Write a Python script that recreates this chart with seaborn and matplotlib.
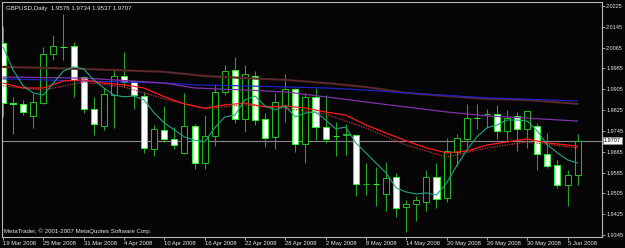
import matplotlib
matplotlib.use("Agg")
import matplotlib.pyplot as plt
import matplotlib.transforms as mtransforms
import pandas as pd
import seaborn as sns

# GBPUSD daily bars, 19 Mar 2008 .. 6 Jun 2008
dates = [
    "19 Mar 2008", "20 Mar 2008", "21 Mar 2008", "24 Mar 2008", "25 Mar 2008", "26 Mar 2008",
    "27 Mar 2008", "28 Mar 2008", "31 Mar 2008", "1 Apr 2008", "2 Apr 2008", "3 Apr 2008",
    "4 Apr 2008", "7 Apr 2008", "8 Apr 2008", "9 Apr 2008", "10 Apr 2008", "11 Apr 2008",
    "14 Apr 2008", "15 Apr 2008", "16 Apr 2008", "17 Apr 2008", "18 Apr 2008", "21 Apr 2008",
    "22 Apr 2008", "23 Apr 2008", "24 Apr 2008", "25 Apr 2008", "28 Apr 2008", "29 Apr 2008",
    "30 Apr 2008", "1 May 2008", "2 May 2008", "5 May 2008", "6 May 2008", "7 May 2008",
    "8 May 2008", "9 May 2008", "12 May 2008", "13 May 2008", "14 May 2008", "15 May 2008",
    "16 May 2008", "19 May 2008", "20 May 2008", "21 May 2008", "22 May 2008", "23 May 2008",
    "26 May 2008", "27 May 2008", "28 May 2008", "29 May 2008", "30 May 2008", "2 Jun 2008",
    "3 Jun 2008", "4 Jun 2008", "5 Jun 2008", "6 Jun 2008",
]

opens = [
    2.0083, 1.9852, 1.9849, 1.9803, 1.9852, 2.0041, 2.0068, 2.0071, 1.9952, 1.9829,
    1.9764, 1.9883, 1.9956, 1.9937, 1.9879, 1.9676, 1.9749, 1.9714, 1.9661, 1.9764,
    1.9622, 1.9726, 1.9895, 1.9979, 1.9791, 1.9956, 1.9791, 1.9722, 1.9841, 1.9906,
    1.9695, 1.9876, 1.9760, 1.9726, 1.9730, 1.9730, 1.9541, 1.9542, 1.9503, 1.9568,
    1.9453, 1.9465, 1.9472, 1.9568, 1.9488, 1.9664, 1.9714, 1.9795, 1.9810, 1.9810,
    1.9745, 1.9803, 1.9753, 1.9764, 1.9657, 1.9614, 1.9538, 1.9576,
]
highs = [
    2.0148, 1.9876, 1.9864, 1.9891, 2.0068, 2.0114, 2.0194, 2.0087, 1.9956, 1.9876,
    1.9910, 1.9979, 2.0048, 1.9941, 1.9895, 1.9768, 1.9841, 1.9760, 1.9891, 1.9772,
    1.9806, 1.9925, 1.9998, 2.0029, 1.9998, 1.9975, 1.9814, 1.9891, 1.9964, 1.9910,
    1.9891, 1.9910, 1.9883, 1.9780, 1.9772, 1.9731, 1.9622, 1.9607, 1.9626, 1.9584,
    1.9480, 1.9495, 1.9595, 1.9622, 1.9718, 1.9733, 1.9849, 1.9849, 1.9829, 1.9845,
    1.9826, 1.9818, 1.9822, 1.9776, 1.9737, 1.9634, 1.9595, 1.9734,
]
lows = [
    1.9799, 1.9733, 1.9806, 1.9757, 1.9849, 2.0018, 2.0018, 1.9876, 1.9814, 1.9730,
    1.9749, 1.9757, 1.9914, 1.9829, 1.9661, 1.9649, 1.9703, 1.9676, 1.9657, 1.9599,
    1.9599, 1.9687, 1.9883, 1.9776, 1.9741, 1.9768, 1.9684, 1.9676, 1.9780, 1.9664,
    1.9622, 1.9710, 1.9699, 1.9649, 1.9653, 1.9495, 1.9499, 1.9457, 1.9438, 1.9415,
    1.9357, 1.9399, 1.9438, 1.9449, 1.9472, 1.9611, 1.9684, 1.9753, 1.9757, 1.9714,
    1.9707, 1.9668, 1.9680, 1.9595, 1.9603, 1.9526, 1.9457, 1.9537,
]
closes = [
    1.9852, 1.9850, 1.9818, 1.9856, 2.0041, 2.0071, 2.0066, 1.9941, 1.9829, 1.9772,
    1.9887, 1.9956, 1.9933, 1.9883, 1.9680, 1.9753, 1.9714, 1.9691, 1.9764, 1.9622,
    1.9726, 1.9895, 1.9975, 1.9791, 1.9964, 1.9787, 1.9718, 1.9856, 1.9906, 1.9695,
    1.9876, 1.9760, 1.9714, 1.9724, 1.9732, 1.9541, 1.9543, 1.9540, 1.9564, 1.9449,
    1.9465, 1.9480, 1.9568, 1.9484, 1.9668, 1.9718, 1.9795, 1.9793, 1.9812, 1.9745,
    1.9795, 1.9753, 1.9822, 1.9657, 1.9611, 1.9538, 1.9576, 1.9707,
]

# fast moving average, one value per bar
ma_fast = [
    2.0068, 1.9979, 1.9918, 1.9891, 1.9883, 1.9929, 1.9975, 1.9991, 1.9983, 1.9941,
    1.9910, 1.9883, 1.9876, 1.9879, 1.9864, 1.9814, 1.9776, 1.9749, 1.9722, 1.9710,
    1.9703, 1.9757, 1.9799, 1.9806, 1.9864, 1.9879, 1.9841, 1.9826, 1.9841, 1.9799,
    1.9814, 1.9818, 1.9787, 1.9753, 1.9760, 1.9699, 1.9661, 1.9622, 1.9584, 1.9526,
    1.9511, 1.9503, 1.9507, 1.9499, 1.9545, 1.9611, 1.9672, 1.9722, 1.9757, 1.9768,
    1.9787, 1.9787, 1.9783, 1.9745, 1.9691, 1.9661, 1.9634, 1.9622,
]

# slower averages, sampled at some bars
red_bars = [0, 2, 4, 6, 8, 10, 12, 14, 16, 18, 20, 22, 24, 26, 28, 30, 32, 34, 36, 38,
            40, 42, 44, 46, 48, 50, 52, 54, 57]
ma_red = [1.9929, 1.9910, 1.9910, 1.9937, 1.9941, 1.9929, 1.9922, 1.9910, 1.9876, 1.9849,
          1.9833, 1.9845, 1.9852, 1.9837, 1.9841, 1.9833, 1.9818, 1.9806, 1.9768, 1.9737,
          1.9707, 1.9680, 1.9661, 1.9668, 1.9691, 1.9703, 1.9714, 1.9699, 1.9687]
red2_bars = [0, 4, 8, 12, 16, 20, 24, 28, 32, 36, 40, 44, 48, 52, 57]
ma_red2 = [1.9918, 1.9902, 1.9933, 1.9914, 1.9868, 1.9830, 1.9845, 1.9833, 1.9810, 1.9756,
           1.9691, 1.9645, 1.9680, 1.9703, 1.9680]
blue_bars = [0, 8, 16, 19, 24, 32, 36, 40, 48, 57]
ma_blue = [1.9945, 1.9937, 1.9929, 1.9922, 1.9918, 1.9910, 1.9902, 1.9891, 1.9872, 1.9860]
purple_bars = [0, 8, 16, 19, 24, 28, 32, 36, 40, 44, 48, 57]
ma_purple = [1.9952, 1.9948, 1.9929, 1.9910, 1.9902, 1.9895, 1.9876, 1.9856, 1.9837, 1.9818,
             1.9803, 1.9783]
brown_bars = [0, 8, 16, 20, 24, 28, 32, 36, 40, 44, 48, 52, 57]
ma_brown = [1.9991, 1.9983, 1.9972, 1.9956, 1.9948, 1.9941, 1.9929, 1.9914, 1.9891, 1.9879,
            1.9868, 1.9864, 1.9849]

price_ticks = [2.0225, 2.0145, 2.0065, 1.9985, 1.9905, 1.9825, 1.9745, 1.9665, 1.9585,
               1.9505, 1.9425, 1.9345]

BG = "#050505"
FRAME = "#b8b8b8"
TEXT = "#e8e8e8"

sns.set_theme(style="dark", rc={"axes.facecolor": BG, "figure.facecolor": BG})
plt.rcParams["font.family"] = ["Liberation Sans", "DejaVu Sans"]

bars = pd.DataFrame({"bar": range(len(dates)), "date": dates, "open": opens,
                     "high": highs, "low": lows, "close": closes, "fast": ma_fast})

fig = plt.figure(figsize=(6.25, 2.48), dpi=100)
ax = fig.add_axes([2 / 625, 11 / 248, 600 / 625, 235 / 248])
ax.set_facecolor(BG)

# candles: bull = hollow, bear = white
for _, r in bars.iterrows():
    ax.vlines(r["bar"], r["low"], r["high"], color="#22a822", lw=0.75, zorder=2)
    lo = min(r["open"], r["close"])
    hi = max(r["open"], r["close"])
    bull = r["close"] >= r["open"]
    ax.bar(r["bar"], max(hi - lo, 0.00002), bottom=lo, width=0.6,
           color=BG if bull else "white",
           edgecolor="#22b822" if bull else "#2ef02e", linewidth=0.75, zorder=3)

# moving averages on top of the candles
sns.lineplot(x=brown_bars, y=ma_brown, ax=ax, color="#4e2418", lw=1.6, zorder=4)
sns.lineplot(x=brown_bars, y=ma_brown, ax=ax, color="#8a3a90", lw=0.6,
             linestyle=(0, (1, 2)), zorder=4)
sns.lineplot(x=blue_bars, y=ma_blue, ax=ax, color="#2020c8", lw=0.9, zorder=4)
sns.lineplot(x=purple_bars, y=ma_purple, ax=ax, color="#8030a8", lw=0.9, zorder=4)
sns.lineplot(x=red2_bars, y=ma_red2, ax=ax, color="#c83040", lw=0.9,
             linestyle=(0, (1, 1)), zorder=4)
sns.lineplot(x=red_bars, y=ma_red, ax=ax, color="#ff1a1a", lw=0.9, zorder=5)
sns.lineplot(data=bars, x="bar", y="fast", ax=ax, color="#22a386", lw=0.8, zorder=5)

# last price line and label
last = closes[-1]
ax.axhline(last, color="#8a8a8a", lw=0.8, zorder=1)
trans = mtransforms.blended_transform_factory(ax.transAxes, ax.transData)
ax.text(1.003, last, f"{last:.4f}", transform=trans, ha="left", va="center",
        fontsize=4.0, color="black",
        bbox=dict(boxstyle="square,pad=0.2", fc="white", ec="#909090", lw=0.5))

ax.set_xlim(-0.1, 59.42)
ax.set_ylim(1.9338, 2.0240)

ax.yaxis.tick_right()
ax.set_yticks(price_ticks)
ax.set_yticklabels([f"{p:.4f}" for p in price_ticks])
ax.set_xticks(bars["bar"][::4])
ax.set_xticklabels(bars["date"][::4], ha="left")
ax.tick_params(axis="y", colors=FRAME, labelcolor=TEXT, labelsize=4.0, length=2.2,
               width=0.6, pad=0.8, right=True, left=False)
ax.tick_params(axis="x", colors=FRAME, labelcolor=TEXT, labelsize=4.2, length=2.2,
               width=0.6, pad=1, bottom=True)
ax.set_xlabel("")
ax.set_ylabel("")
ax.grid(False)
for s in ax.spines.values():
    s.set_visible(True)
    s.set_color(FRAME)
    s.set_linewidth(0.8)

ax.text(0.006, 0.985, "GBPUSD,Daily  1.9576 1.9734 1.9537 1.9707", transform=ax.transAxes,
        ha="left", va="top", fontsize=4.4, color=TEXT)
ax.text(0.004, 0.012, "MetaTrader, \u00a9 2001-2007 MetaQuotes Software Corp.",
        transform=ax.transAxes, ha="left", va="bottom", fontsize=4.4, color=TEXT)

fig.savefig("out.png", dpi=100, facecolor=BG)
